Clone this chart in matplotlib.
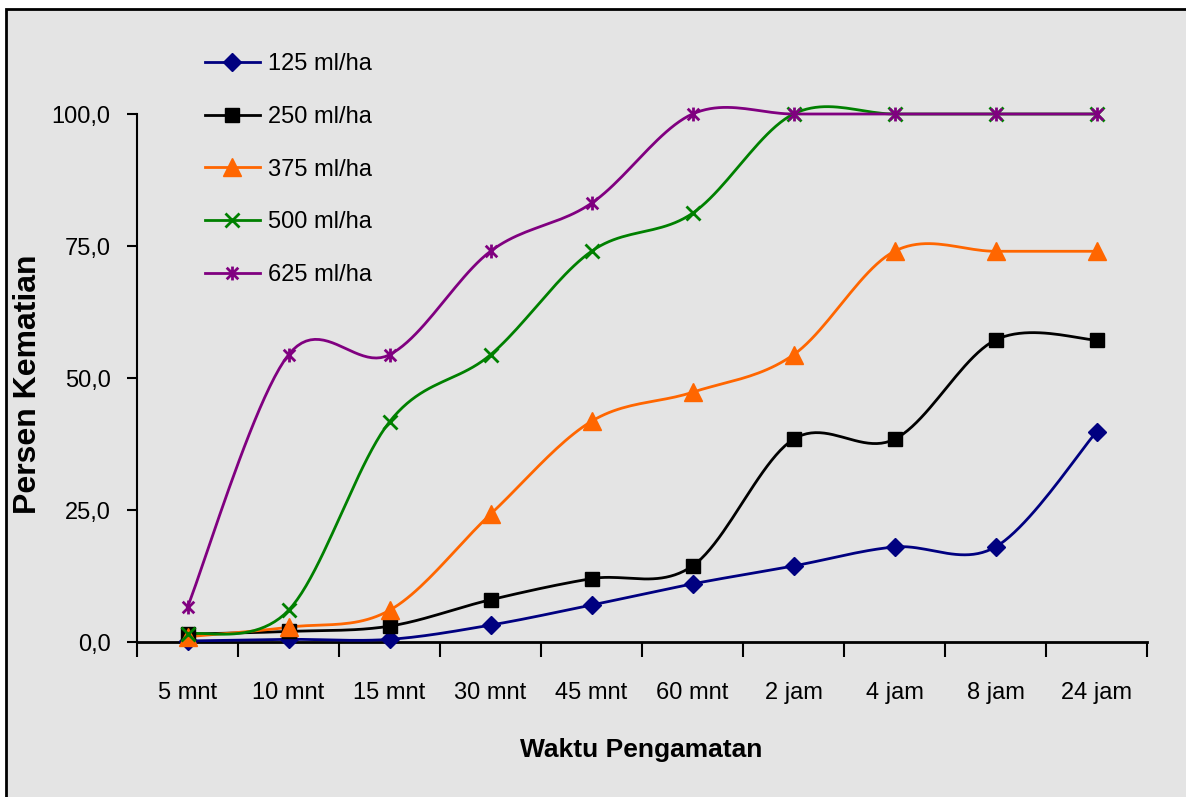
import matplotlib
matplotlib.use("Agg")

import matplotlib.pyplot as plt
import numpy as np
from matplotlib.patches import Rectangle
from matplotlib.path import Path

plt.rcParams["font.family"] = ["Liberation Sans", "DejaVu Sans"]

waktu = ["5 mnt", "10 mnt", "15 mnt", "30 mnt", "45 mnt", "60 mnt",
         "2 jam", "4 jam", "8 jam", "24 jam"]

dosis_125 = [0.2, 0.5, 0.5, 3.2, 7.0, 11.0, 14.4, 18.0, 18.0, 39.8]
dosis_250 = [1.5, 2.0, 3.0, 8.0, 12.0, 14.4, 38.4, 38.4, 57.2, 57.2]
dosis_375 = [1.0, 2.8, 6.0, 24.2, 41.8, 47.3, 54.4, 74.0, 74.0, 74.0]
dosis_500 = [1.5, 6.0, 41.7, 54.4, 74.0, 81.2, 100.0, 100.0, 100.0, 100.0]
dosis_625 = [6.6, 54.4, 54.4, 74.0, 83.1, 100.0, 100.0, 100.0, 100.0, 100.0]

# excel-like star marker: X plus a vertical stroke
star = Path([(-1, -1), (1, 1), (-1, 1), (1, -1), (0, -1.2), (0, 1.2)],
            [Path.MOVETO, Path.LINETO, Path.MOVETO, Path.LINETO, Path.MOVETO, Path.LINETO])

series = [
    ("125 ml/ha", dosis_125, "#000080", "D", 9.5, 1.0),
    ("250 ml/ha", dosis_250, "#000000", "s", 10, 1.0),
    ("375 ml/ha", dosis_375, "#FF6600", "^", 13, 1.0),
    ("500 ml/ha", dosis_500, "#008000", "x", 10, 2.0),
    ("625 ml/ha", dosis_625, "#800080", star, 10, 2.0),
]


def smooth(x, y, n=24):
    # Excel style smoothed line (bezier through the points)
    x = np.asarray(x, float)
    y = np.asarray(y, float)
    px = np.concatenate([[x[0]], x, [x[-1]]])
    py = np.concatenate([[y[0]], y, [y[-1]]])
    xs, ys = [], []
    for i in range(1, len(px) - 2):
        p0, p1, p2, p3 = (np.array([px[j], py[j]]) for j in range(i - 1, i + 3))
        c1 = p1 + (p2 - p0) / 6.0
        c2 = p2 - (p3 - p1) / 6.0
        t = np.linspace(0, 1, n)[:, None]
        pts = ((1 - t) ** 3) * p1 + 3 * ((1 - t) ** 2) * t * c1 + 3 * (1 - t) * t ** 2 * c2 + t ** 3 * p2
        xs.extend(pts[:, 0])
        ys.extend(pts[:, 1])
    return xs, ys


fig = plt.figure(figsize=(11.86, 7.97), dpi=100)
fig.patches.append(Rectangle((6 / 1186, -0.01), 1.0, 1.01 - 9 / 797, transform=fig.transFigure,
                             facecolor="#e4e4e4", edgecolor="black", linewidth=2.0, zorder=-5))

ax = fig.add_axes([137 / 1186, 155 / 797, (1147 - 137) / 1186, (642 - 114) / 797])
ax.set_facecolor("none")
ax.set_zorder(2)

x = np.arange(len(waktu))
handles = []
for label, vals, color, marker, ms, mew in series:
    sx, sy = smooth(x, vals)
    ax.plot(sx, sy, color=color, linewidth=2.0, clip_on=False, zorder=3)
    ax.plot(x, vals, linestyle="none", marker=marker, color=color, markersize=ms,
            markeredgewidth=mew, clip_on=False, zorder=4)
    h, = ax.plot([], [], color=color, linewidth=2.0, marker=marker, markersize=ms,
                 markeredgewidth=mew, label=label)
    handles.append(h)

ax.set_xlim(-0.5, len(waktu) - 0.5)
ax.set_ylim(0, 100)

ax.set_yticks([0, 25, 50, 75, 100])
ax.set_yticklabels(["0,0", "25,0", "50,0", "75,0", "100,0"], fontsize=17)
ax.tick_params(axis="y", direction="out", length=7, width=1.5, pad=12)

ax.set_xticks(np.arange(len(waktu) + 1) - 0.5)
ax.set_xticklabels([])
ax.tick_params(axis="x", which="major", direction="out", length=11, width=1.5)
ax.set_xticks(x, minor=True)
ax.set_xticklabels(waktu, minor=True, fontsize=17)
ax.tick_params(axis="x", which="minor", length=0, pad=29)

for s in ["top", "right"]:
    ax.spines[s].set_visible(False)
ax.spines["left"].set_linewidth(1.5)
ax.spines["bottom"].set_linewidth(2.0)

fig.text(641 / 1186, 1 - 750 / 797, "Waktu Pengamatan", fontsize=19, fontweight="bold",
         ha="center", va="center")
fig.text(28 / 1186, 1 - 384 / 797, "Persen Kematian", rotation=90, fontsize=23,
         fontweight="bold", ha="center", va="center")

leg = fig.legend(handles=handles, loc="upper left",
                 bbox_to_anchor=(184 / 1186, 1 - 32 / 797), frameon=False,
                 fontsize=17, handlelength=2.3, labelspacing=1.3, handletextpad=0.35,
                 numpoints=1)

plt.savefig("out.png", dpi=100)
plt.close()
